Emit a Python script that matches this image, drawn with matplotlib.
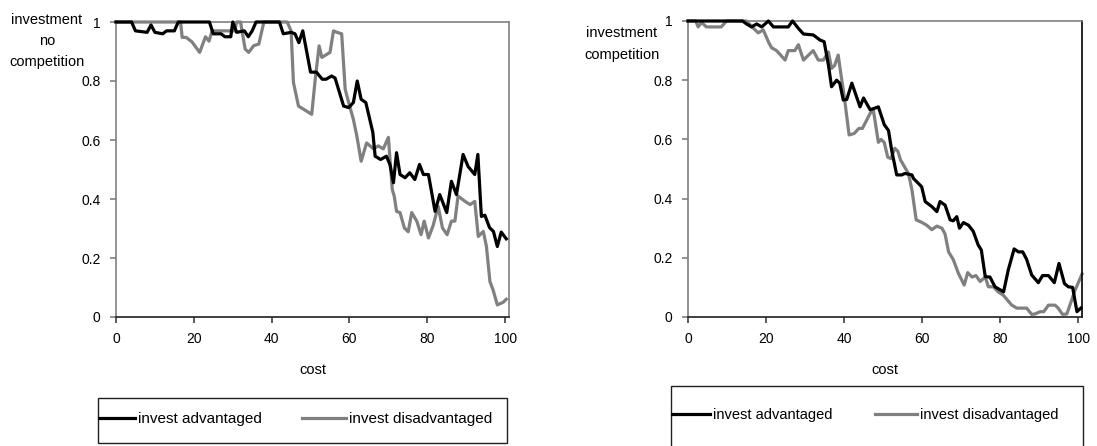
import matplotlib
matplotlib.use("Agg")
import matplotlib.pyplot as plt
from matplotlib.lines import Line2D
from matplotlib.patches import Rectangle

plt.rcParams['font.family'] = ['Liberation Sans', 'DejaVu Sans']

# left chart: no competition
nc_adv_x = [0, 4, 5, 8, 9, 10, 12, 13, 15, 16, 24, 25, 27, 28, 29.5, 30, 31, 33, 34, 35, 36, 42, 43, 45, 46, 47, 48,
            50, 51.5, 53, 54, 55.4, 56.3, 58.5, 59.8, 61, 62, 63, 64.2, 66, 66.6, 68, 69.5, 70.4, 71.3, 72.1, 73, 74.3,
            75.5, 76.8, 78, 79, 80.3, 82, 83.2, 85, 86.2, 87.5, 89.2, 90.5, 92.2, 93, 93.9, 94.8, 96, 97, 98, 99, 100.3]
nc_adv_y = [1, 1, 0.97, 0.965, 0.99, 0.965, 0.96, 0.97, 0.97, 1, 1, 0.96, 0.96, 0.95, 0.95, 1, 0.965, 0.97, 0.95, 0.97, 1,
            1, 0.96, 0.965, 0.96, 0.93, 0.97, 0.83, 0.83, 0.806, 0.806, 0.817, 0.81, 0.715, 0.71, 0.727, 0.80, 0.738,
            0.727, 0.626, 0.545, 0.534, 0.545, 0.517, 0.455, 0.557, 0.483, 0.472, 0.489, 0.466, 0.517, 0.483, 0.483,
            0.358, 0.415, 0.354, 0.46, 0.415, 0.551, 0.51, 0.483, 0.551, 0.341, 0.345, 0.303, 0.29, 0.239, 0.288, 0.265]

nc_dis_x = [0, 16.6, 17, 18, 19.5, 21.5, 23, 23.9, 24.7, 30.5, 31, 32, 33.2, 34.1, 35.4, 36.7, 38, 44, 45, 45.6, 46.9,
            50.3, 51.2, 52.2, 52.9, 55, 55.9, 56.8, 58, 58.9, 59.8, 61, 61.9, 63, 64.4, 66.2, 67.4, 68.7, 70, 71, 71.5,
            72.1, 73, 74.1, 75.1, 76, 77.3, 78.4, 79.2, 80.3, 81.5, 82.8, 83.9, 85.1, 86.2, 87.1, 87.9, 89.7, 91, 92.2,
            93.1, 94.4, 95.2, 96.1, 96.9, 98, 99.5, 100.3]
nc_dis_y = [1, 1, 0.948, 0.948, 0.933, 0.897, 0.95, 0.935, 0.97, 0.97, 1, 1, 0.908, 0.897, 0.92, 0.925, 1, 1, 0.97,
            0.795, 0.715, 0.687, 0.806, 0.919, 0.88, 0.897, 0.97, 0.965, 0.96, 0.772, 0.727, 0.67, 0.613, 0.528, 0.59,
            0.57, 0.58, 0.57, 0.609, 0.432, 0.41, 0.358, 0.354, 0.302, 0.289, 0.354, 0.325, 0.279, 0.325, 0.268, 0.31,
            0.375, 0.302, 0.279, 0.325, 0.325, 0.41, 0.392, 0.381, 0.392, 0.273, 0.29, 0.239, 0.12, 0.092, 0.041, 0.05,
            0.06]

# right chart: competition
c_adv_x = [0, 14, 15, 16.3, 17.6, 18.9, 20.6, 21.9, 25.7, 26.8, 28.3, 29.6, 32.1, 33.8, 34.9, 36, 36.8, 38.1, 38.9,
           39.8, 40.7, 42, 44.1, 45, 46.7, 48.8, 50.3, 51.4, 52.2, 53.5, 54.8, 55.6, 57.4, 57.8, 59, 59.9, 60.8, 62.5,
           63.8, 64.6, 65.9, 67.2, 68, 68.9, 69.6, 70.6, 71.9, 73.1, 74.4, 75.2, 76.2, 77.4, 78.7, 80.9, 82.1, 83.6,
           84.7, 85.8, 86.8, 88.1, 89.8, 90.9, 92.4, 93.9, 95.1, 96.5, 97.5, 98.6, 99.7, 100.7]
c_adv_y = [1, 1, 0.99, 0.98, 0.99, 0.98, 1, 0.98, 0.98, 1, 0.975, 0.956, 0.953, 0.936, 0.93, 0.851, 0.778, 0.80, 0.79,
           0.733, 0.735, 0.79, 0.71, 0.74, 0.70, 0.71, 0.65, 0.63, 0.564, 0.48, 0.48, 0.485, 0.48, 0.468, 0.452, 0.44,
           0.39, 0.373, 0.356, 0.39, 0.378, 0.328, 0.325, 0.339, 0.30, 0.319, 0.31, 0.29, 0.243, 0.226, 0.136, 0.135,
           0.102, 0.085, 0.159, 0.23, 0.22, 0.22, 0.195, 0.142, 0.116, 0.14, 0.14, 0.116, 0.181, 0.113, 0.102, 0.10,
           0.018, 0.03]

c_dis_x = [0, 2, 2.6, 3.5, 4.7, 8.5, 9.9, 15, 16.8, 18, 19.3, 20.6, 21.4, 22.7, 24.9, 25.7, 27.4, 28.3, 29.6, 30.9,
           32.1, 33.4, 34.7, 36, 36.8, 37.6, 38.5, 39.2, 40, 41.3, 42.6, 43.8, 44.7, 46.7, 47.5, 48.8, 49.5, 50.3, 51.2,
           52, 53, 53.8, 54.5, 56.5, 57.4, 58.5, 59.9, 61.2, 62.5, 63.8, 65.1, 65.9, 66.8, 68, 69.3, 70.8, 71.7, 72.8,
           73.8, 74.9, 76.2, 77, 78.3, 79.5, 80.8, 83, 84.3, 86.8, 88.1, 88.9, 90.3, 91.2, 92.4, 94.1, 94.9, 96, 97.1,
           97.9, 99.2, 101]
c_dis_y = [1, 1, 0.98, 0.995, 0.98, 0.98, 1, 1, 0.975, 0.96, 0.97, 0.93, 0.91, 0.90, 0.868, 0.90, 0.90, 0.92, 0.868,
           0.885, 0.90, 0.868, 0.868, 0.895, 0.84, 0.85, 0.885, 0.82, 0.75, 0.615, 0.62, 0.637, 0.637, 0.688, 0.70,
           0.59, 0.60, 0.59, 0.54, 0.535, 0.57, 0.56, 0.53, 0.485, 0.43, 0.328, 0.32, 0.31, 0.295, 0.307, 0.30, 0.28,
           0.22, 0.194, 0.148, 0.108, 0.15, 0.135, 0.14, 0.12, 0.135, 0.102, 0.102, 0.085, 0.074, 0.04, 0.03, 0.03,
           0.009, 0.01, 0.018, 0.018, 0.04, 0.04, 0.03, 0.009, 0.01, 0.04, 0.09, 0.145]

x_ticks = [0, 20, 40, 60, 80, 100]
y_ticks = [0, 0.2, 0.4, 0.6, 0.8, 1]
y_tick_labels = ["0", "0.2", "0.4", "0.6", "0.8", "1"]
series_names = ["invest advantaged", "invest disadvantaged"]

W, H = 1097, 446
fig = plt.figure(figsize=(W / 100, H / 100), dpi=100)

def px_axes(x0, y0, x1, y1):
    return fig.add_axes([x0 / W, 1 - y1 / H, (x1 - x0) / W, (y1 - y0) / H])

def style(ax, right_col):
    ax.set_xlim(0, 101)
    ax.set_ylim(0, 1)
    ax.set_xticks(x_ticks)
    ax.set_yticks(y_ticks)
    ax.set_yticklabels(y_tick_labels)
    for s in ["left", "top"]:
        ax.spines[s].set_color("#808080")
    ax.spines["right"].set_color(right_col)
    ax.spines["bottom"].set_color("#202020")
    for s in ax.spines.values():
        s.set_linewidth(1.2)
    ax.tick_params(axis="y", direction="out", length=4, width=1.2, color="#808080", pad=7, labelsize=10)
    ax.tick_params(axis="x", direction="out", length=4, width=1.2, color="#404040", pad=7, labelsize=10)
    ax.set_xlabel("cost", fontsize=10.5, labelpad=12)

blk = "#000000"
gry = "#808080"

ax1 = px_axes(116, 22, 509, 317)
ax1.plot(nc_adv_x, nc_adv_y, color=blk, lw=2.3, clip_on=False, zorder=3)
ax1.plot(nc_dis_x, nc_dis_y, color=gry, lw=2.3, clip_on=False, zorder=2)
style(ax1, "#808080")
fig.text(47 / W, 1 - 41 / H, "investment\nno\ncompetition", ha="center", va="center",
         fontsize=10.5, linespacing=1.6)

ax2 = px_axes(688, 21, 1082, 317)
ax2.plot(c_adv_x, c_adv_y, color=blk, lw=2.3, clip_on=False, zorder=3)
ax2.plot(c_dis_x, c_dis_y, color=gry, lw=2.3, clip_on=False, zorder=2)
style(ax2, "#000000")
fig.text(622 / W, 1 - 44 / H, "investment\ncompetition", ha="center", va="center",
         fontsize=10.5, linespacing=1.75)

handles = [Line2D([], [], color=blk, lw=2.3), Line2D([], [], color=gry, lw=2.3)]

# legend frames
box1 = Rectangle((98 / W, 1 - 443 / H), 409 / W, 45 / H, transform=fig.transFigure,
                 fill=False, edgecolor="#202020", lw=1.0)
box2 = Rectangle((671 / W, 1 - 460 / H), 412 / W, 74 / H, transform=fig.transFigure,
                 fill=False, edgecolor="#202020", lw=1.0)
fig.patches.append(box1)
fig.patches.append(box2)

leg1 = fig.legend(handles, series_names, ncol=2, loc="center left", bbox_to_anchor=(77 / W, 1 - 419 / H),
                  frameon=False, fontsize=11, handlelength=2.9, handletextpad=0.2, columnspacing=2.6)
leg2 = fig.legend(handles, series_names, ncol=2, loc="center left", bbox_to_anchor=(655 / W, 1 - 415 / H),
                  frameon=False, fontsize=10.5, handlelength=2.9, handletextpad=0.2, columnspacing=2.9)
for ln in leg1.get_lines():
    ln.set_clip_path(box1)
for ln in leg2.get_lines():
    ln.set_clip_path(box2)

fig.savefig("out.png", dpi=100)
